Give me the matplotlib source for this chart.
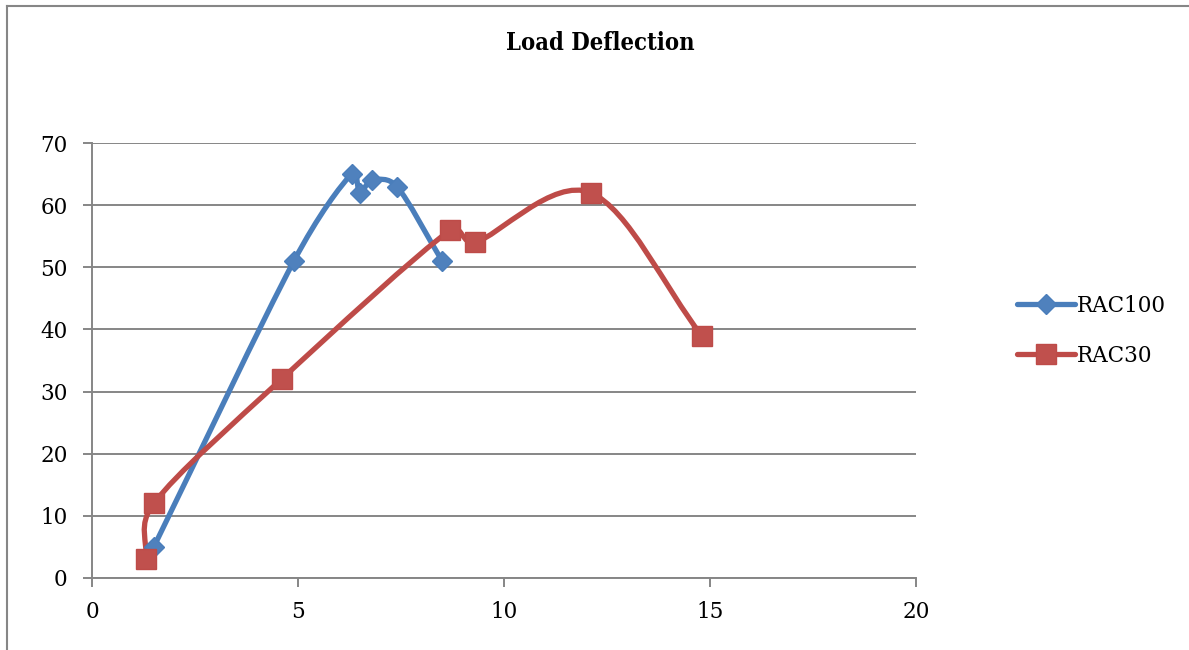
import numpy as np
import matplotlib
matplotlib.use("Agg")
import matplotlib.pyplot as plt
from matplotlib.path import Path
from matplotlib.patches import PathPatch
from matplotlib.lines import Line2D

plt.rcParams['font.family'] = ['DejaVu Serif', 'Liberation Serif']

# deflection (x) vs load (y)
rac100_x = [1.5, 4.9, 6.3, 6.5, 6.8, 7.4, 8.5]
rac100_y = [5, 51, 65, 62, 64, 63, 51]
rac30_x = [1.3, 1.5, 4.6, 8.7, 9.3, 12.1, 14.8]
rac30_y = [3, 12, 32, 56, 54, 62, 39]

x_ticks = [0, 5, 10, 15, 20]
y_ticks = [0, 10, 20, 30, 40, 50, 60, 70]

BLUE_LINE, BLUE_MK = "#4A7EBB", "#4F81BD"
RED_LINE, RED_MK = "#BE4B48", "#C0504D"
GRID = "#868686"
LW = 3.8


def smooth_path(ax, xs, ys):
    """Bezier smoothing with control arms clamped to half the segment length."""
    pts = ax.transData.transform(np.column_stack([xs, ys]))
    n = len(pts)
    verts = [pts[0]]
    codes = [Path.MOVETO]
    for i in range(n - 1):
        p0 = pts[i - 1] if i > 0 else pts[i]
        p1, p2 = pts[i], pts[i + 1]
        p3 = pts[i + 2] if i + 2 < n else pts[i + 1]
        d12 = np.hypot(*(p2 - p1))
        d02 = np.hypot(*(p2 - p0))
        d13 = np.hypot(*(p3 - p1))
        f1 = 1 / 6 if i > 0 else 1 / 3
        f2 = 1 / 6 if i + 2 < n else 1 / 3
        if d02 > 0:
            f1 = min(f1, d12 / (2 * d02))
        if d13 > 0:
            f2 = min(f2, d12 / (2 * d13))
        c1 = p1 + (p2 - p0) * f1
        c2 = p2 - (p3 - p1) * f2
        verts += [c1, c2, p2]
        codes += [Path.CURVE4] * 3
    inv = ax.transData.inverted()
    return Path(inv.transform(np.array(verts)), codes)


fig = plt.figure(figsize=(11.89, 6.5), dpi=100)
ax = fig.add_axes([92 / 1189, 72 / 650, 824 / 1189, 435 / 650])
ax.set_xlim(0, 20)
ax.set_ylim(0, 70)
ax.set_xticks(x_ticks)
ax.set_yticks(y_ticks)

for sp in ("top", "right"):
    ax.spines[sp].set_visible(False)
for sp in ("left", "bottom"):
    ax.spines[sp].set_color(GRID)
    ax.spines[sp].set_linewidth(1.4)
ax.yaxis.grid(True, color=GRID, linewidth=1.4)
ax.set_axisbelow(True)
ax.tick_params(axis="both", direction="out", length=6.5, width=1.4, color=GRID,
               labelsize=15.5)
ax.tick_params(axis="x", pad=10)
ax.tick_params(axis="y", pad=11)

for xs, ys, lc in ((rac100_x, rac100_y, BLUE_LINE), (rac30_x, rac30_y, RED_LINE)):
    ax.add_patch(PathPatch(smooth_path(ax, xs, ys), facecolor="none", edgecolor=lc,
                           linewidth=LW, capstyle="round", joinstyle="round", zorder=3))

ax.plot(rac100_x, rac100_y, linestyle="none", marker="D", markersize=10,
        markerfacecolor=BLUE_MK, markeredgecolor=BLUE_LINE, zorder=4)
ax.plot(rac30_x, rac30_y, linestyle="none", marker="s", markersize=14,
        markerfacecolor=RED_MK, markeredgecolor=RED_LINE, zorder=4)

handles = [
    Line2D([], [], color=BLUE_LINE, linewidth=LW, marker="D", markersize=10,
           markerfacecolor=BLUE_MK, markeredgecolor=BLUE_LINE, solid_capstyle="round"),
    Line2D([], [], color=RED_LINE, linewidth=LW, marker="s", markersize=14,
           markerfacecolor=RED_MK, markeredgecolor=RED_LINE, solid_capstyle="round"),
]
fig.legend(handles, ["RAC100", "RAC30"], loc="center left",
           bbox_to_anchor=(1008 / 1189, 1 - 331 / 650), frameon=False, fontsize=15.5,
           handlelength=2.7, handletextpad=0.1, labelspacing=1.3, borderaxespad=0)

fig.text(600 / 1189, 1 - 43 / 650, "Load Deflection", ha="center", va="center",
         fontsize=17, fontweight="bold", fontstretch="condensed")

# outer chart frame (top and left edges)
fig.add_artist(Line2D([7 / 1189, 1], [1 - 6 / 650, 1 - 6 / 650], color=GRID,
                      linewidth=1.5, transform=fig.transFigure))
fig.add_artist(Line2D([7 / 1189, 7 / 1189], [0, 1 - 6 / 650], color=GRID,
                      linewidth=1.5, transform=fig.transFigure))

fig.savefig("out.png", dpi=100, facecolor="white")
